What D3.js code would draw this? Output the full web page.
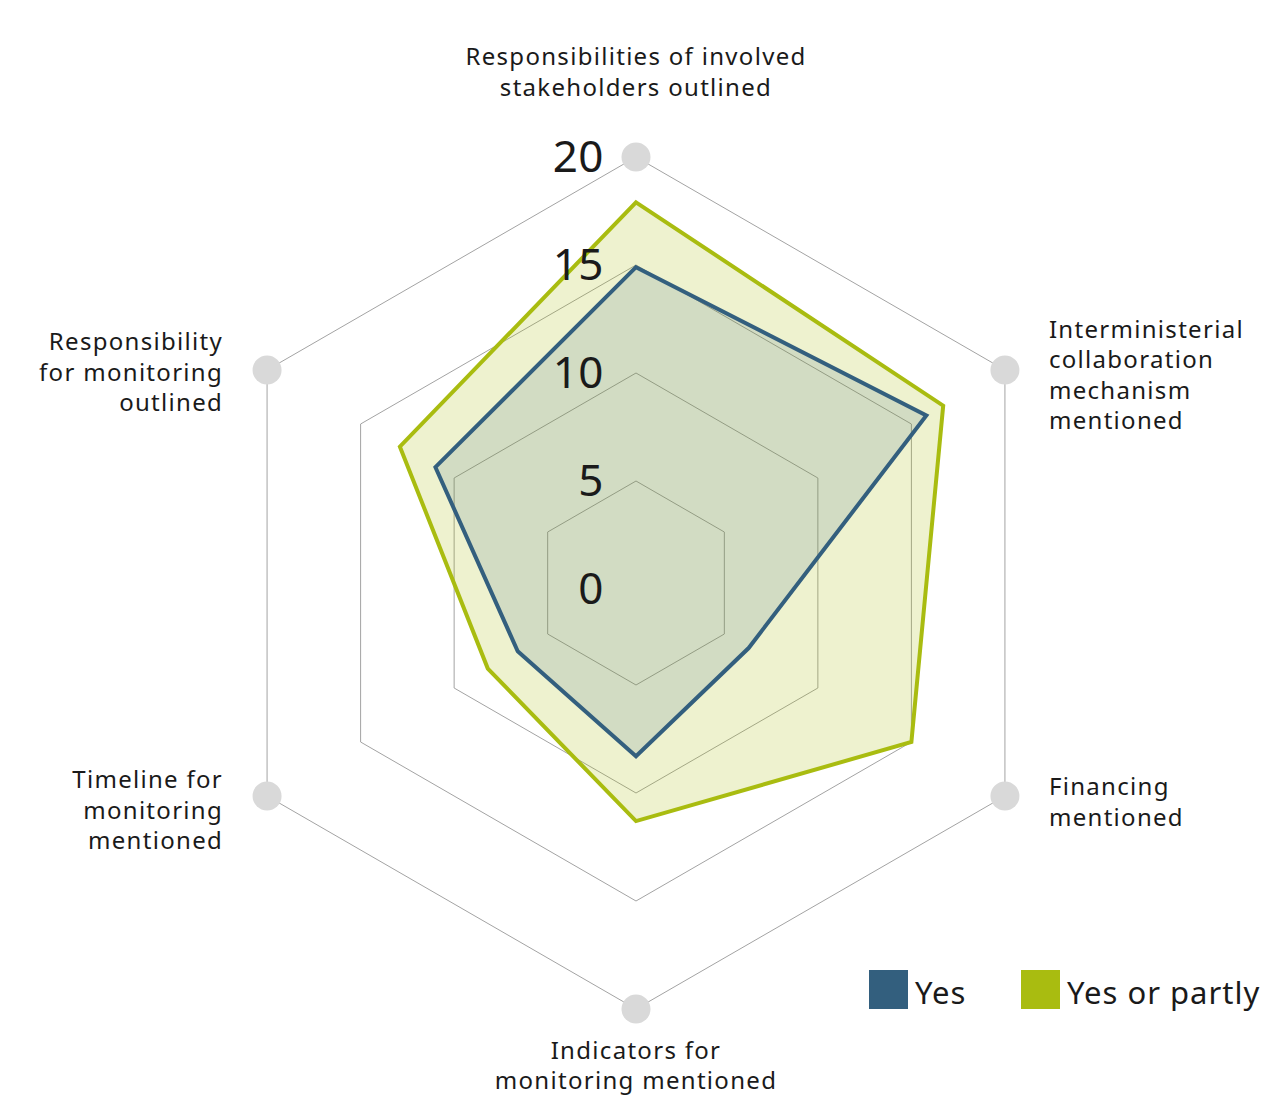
<!DOCTYPE html>
<html>
<head>
<meta charset="utf-8">
<script src="https://cdn.jsdelivr.net/npm/d3@7"></script>
<style>
  body { margin: 0; background: #fff; overflow: hidden; }
  svg text { font-family: "Noto Sans", sans-serif; fill: #1a1a1a; }
</style>
</head>
<body>
<div class="radar"></div>
<script>
// categories, clockwise from the top
const categories = [
  ["Responsibilities of involved", "stakeholders outlined"],
  ["Interministerial", "collaboration", "mechanism", "mentioned"],
  ["Financing", "mentioned"],
  ["Indicators for", "monitoring mentioned"],
  ["Timeline for", "monitoring", "mentioned"],
  ["Responsibility", "for monitoring", "outlined"]
];
const yesValues = [14.9, 15.8, 6.3, 8.3, 6.6, 11];
const partlyValues = [17.9, 16.7, 15, 11.3, 8.2, 12.9];
const tickValues = [0, 5, 10, 15, 20];
const seriesNames = ["Yes", "Yes or partly"];
const seriesColors = ["#335f7e", "#a9bc10"];

const width = 1261;
const height = 1098;
const cx = 636, cy = 583;

const svg = d3.select('.radar')
  .append('svg')
  .attr('width', width)
  .attr('height', height);

const r = d3.scaleLinear().domain([0, 20]).range([-6, 426]);
const angle = d3.scaleLinear().domain([0, categories.length]).range([-Math.PI / 2, 1.5 * Math.PI]);

const pt = (i, v) => [cx + r(v) * Math.cos(angle(i)), cy + r(v) * Math.sin(angle(i))];
const hexLine = d3.line();

// grid hexagons
svg.selectAll('.grid')
  .data(tickValues.filter(t => t > 0))
  .enter()
  .append('path')
  .attr('class', 'grid')
  .attr('d', t => hexLine(categories.map((c, i) => pt(i, t))) + 'Z')
  .attr('fill', 'none')
  .attr('stroke', '#a3a3a3')
  .attr('stroke-width', 1);

// series areas, green first so blue sits on top
const series = [
  { name: seriesNames[1], values: partlyValues, color: seriesColors[1], op: 0.2 },
  { name: seriesNames[0], values: yesValues, color: seriesColors[0], op: 0.15 }
];
svg.selectAll('.area')
  .data(series)
  .enter()
  .append('path')
  .attr('class', 'area')
  .attr('d', s => hexLine(s.values.map((v, i) => pt(i, v))) + 'Z')
  .attr('fill', s => s.color)
  .attr('fill-opacity', s => s.op)
  .attr('stroke', s => s.color)
  .attr('stroke-width', 4)
  .attr('stroke-linejoin', 'miter');

// grey dots at the outer ring
svg.selectAll('.dot')
  .data(categories)
  .enter()
  .append('circle')
  .attr('cx', (d, i) => pt(i, 20)[0])
  .attr('cy', (d, i) => pt(i, 20)[1])
  .attr('r', 14.5)
  .attr('fill', '#d9d9d9');

// tick labels
svg.selectAll('.tick')
  .data(tickValues)
  .enter()
  .append('text')
  .attr('x', 604)
  .attr('y', t => cy - r(t) - 2)
  .attr('text-anchor', 'end')
  .attr('dominant-baseline', 'central')
  .attr('font-size', 44)
  .attr('letter-spacing', 0.5)
  .text(t => t);

// category labels
const lh = 30.5;
const nudge = [0, 4, 5, 0, 13, 1];
categories.forEach((lines, i) => {
  const [vx, vy] = pt(i, 20);
  const c = Math.cos(angle(i));
  let x, y0, anchor;
  if (Math.abs(c) < 0.01) {
    x = vx;
    anchor = 'middle';
    y0 = vy < cy ? vy - 71 - (lines.length - 1) * lh : vy + 40;
  } else {
    x = c > 0 ? vx + 44 : vx - 44;
    anchor = c > 0 ? 'start' : 'end';
    y0 = vy - (lines.length - 1) * lh / 2 + nudge[i];
  }
  svg.append('text')
    .attr('text-anchor', anchor)
    .attr('font-size', 24)
    .attr('letter-spacing', 1.3)
    .selectAll('tspan')
    .data(lines)
    .enter()
    .append('tspan')
    .attr('x', x)
    .attr('y', (d, k) => y0 + k * lh)
    .attr('dominant-baseline', 'central')
    .text(d => d);
});

// legend
const legend = svg.selectAll('.legend')
  .data(seriesNames)
  .enter()
  .append('g')
  .attr('class', 'legend')
  .attr('transform', (d, i) => `translate(${869 + i * 152}, 970)`);
legend.append('rect')
  .attr('width', 39)
  .attr('height', 39)
  .attr('fill', (d, i) => seriesColors[i]);
legend.append('text')
  .attr('x', 46)
  .attr('y', 22)
  .attr('dominant-baseline', 'central')
  .attr('font-size', 31)
  .attr('letter-spacing', 1)
  .text(d => d);
</script>
</body>
</html>
